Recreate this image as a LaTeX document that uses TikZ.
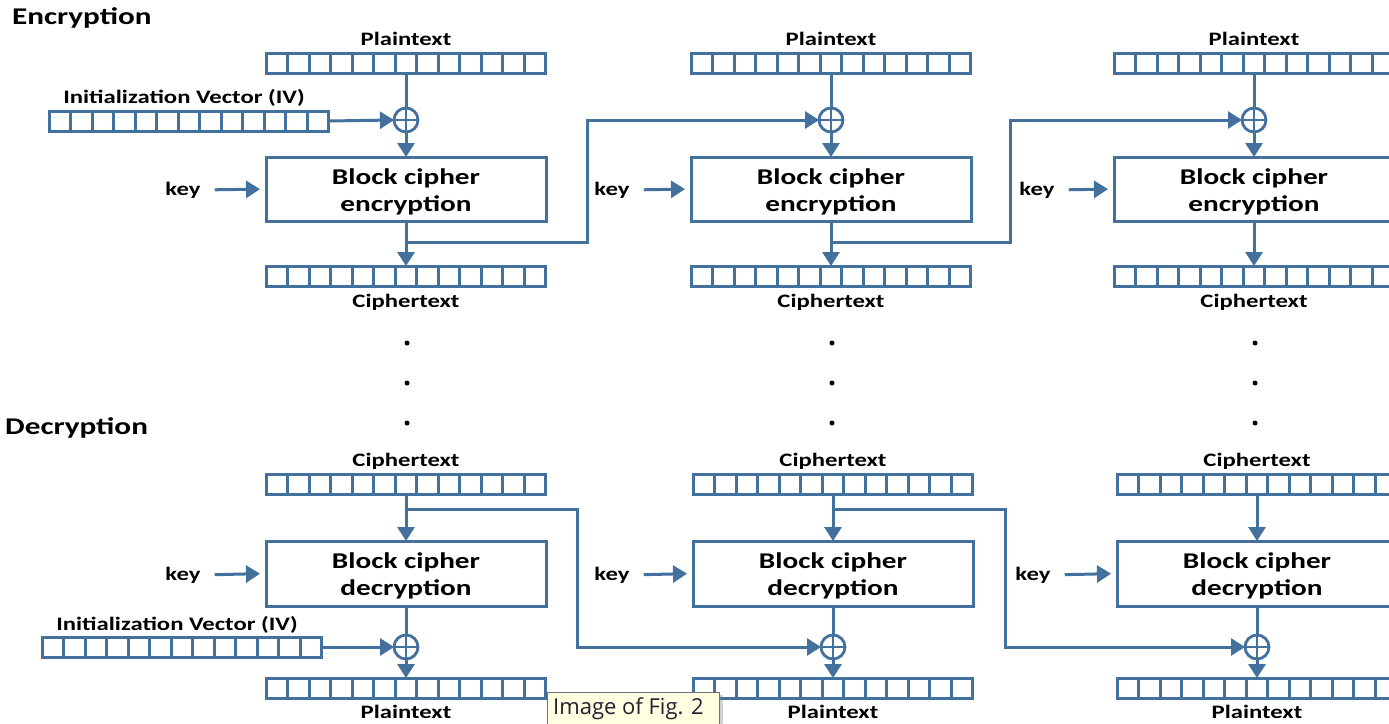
\documentclass[tikz,border=0pt]{standalone}
\usepackage{fontspec}
\setmainfont{Carlito}
\newfontfamily\tipfont{Open Sans}
\usetikzlibrary{arrows.meta,calc,shadows}
\definecolor{cbc}{RGB}{65,113,156}
\definecolor{tipfill}{RGB}{255,255,226}
\definecolor{tiptext}{RGB}{40,30,50}
% horizontally widened lettering
\newcommand\sx[1]{\scalebox{1.3}[1]{#1}}
% a 13-cell register: name, centre x, centre y
\newcommand\register[3]{%
  \node[reg] (#1) at (#2,#3) {};
  \foreach \k in {1,...,12}
    \draw[cbc, line width=3pt] ($(#1.north west)!\k/13!(#1.north east)$) -- ($(#1.south west)!\k/13!(#1.south east)$);
}
% XOR symbol: name, centre x, centre y
\newcommand\xorgate[3]{%
  \node[xorc] (#1) at (#2,#3) {};
  \draw[cbc, line width=2.8pt] (#1.west) -- (#1.east) (#1.north) -- (#1.south);
}
\tikzset{
  reg/.style={draw=cbc, fill=white, line width=3pt, minimum width=279pt, minimum height=20pt, inner sep=0pt, outer sep=0pt},
  xorc/.style={circle, draw=cbc, fill=white, line width=2.8pt, minimum size=24pt, inner sep=0pt, outer sep=0pt},
  cipherbox/.style={draw=cbc, fill=white, line width=3pt, minimum width=280pt, minimum height=64pt, inner sep=0pt, outer sep=0pt},
  boxtext/.style={inner sep=0pt, align=center, font=\bfseries\fontsize{22.5}{27}\selectfont},
  lbl/.style={inner sep=0pt, font=\bfseries\fontsize{19}{22}\selectfont},
  ttl/.style={inner sep=0pt, anchor=west, font=\bfseries\fontsize{24}{28}\selectfont},
  wire/.style={draw=cbc, line width=3pt},
  flow/.style={wire, -{Triangle[length=14pt,width=17pt]}},
  dotmark/.style={circle, fill=black, inner sep=0pt, minimum size=5pt},
}
\begin{document}
\begin{tikzpicture}[x=1pt, y=-1pt]
\useasboundingbox (0,0) rectangle (1389,723);
\clip (0,0) rectangle (1389,723);
\fill[white] (0,0) rectangle (1389,723);

% ---------------- Encryption ----------------
\node[ttl] (enctitle) at (12,18) {\sx{Encryption}};

\node[lbl] (eivlbl) at (184,98) {\sx{Initialization Vector (IV)}};
\register{eiv}{189}{121}

\foreach \c/\X/\kx in {1/406/183, 2/831/612, 3/1254/1037} {
  \node[lbl] (eptl\c) at (\X,39) {\sx{Plaintext}};
  \register{ep\c}{\X}{63}
  \xorgate{ex\c}{\X}{120}
  \node[cipherbox] (eb\c) at (\X,189) {};
  \node[boxtext] (ebt\c) at (\X,192) {\sx{Block cipher}\\\sx{encryption}};
  \register{ec\c}{\X}{276}
  \node[lbl] (ectl\c) at (\X,302) {\sx{Ciphertext}};
  \node[lbl] (ek\c) at (\kx,190) {\sx{key}};
  \coordinate (ej\c) at (\X,242);
  \draw[wire] (ep\c.south) -- (ex\c.north);
  \draw[flow] (ex\c.south) -- (eb\c.north);
  \draw[flow] (eb\c.south) -- (ec\c.north);
  \draw[flow, shorten <=14pt, shorten >=6pt] (ek\c.east) -- (eb\c.west);
  % continuation dots
  \node[dotmark] (dta\c) at (\X+1,343) {};
  \node[dotmark] (dtb\c) at (\X+1,383) {};
  \node[dotmark] (dtc\c) at (\X+1,423) {};
}
\draw[flow] (eiv.east) -- (ex1.west);
\draw[flow] (ej1) -- ++(181,0) |- (ex2.west);
\draw[flow] (ej2) -- ++(179,0) |- (ex3.west);

% ---------------- Decryption ----------------
\node[ttl] (dectitle) at (5,428) {\sx{Decryption}};

\node[lbl] (divlbl) at (177,625) {\sx{Initialization Vector (IV)}};
\register{div}{182}{647}

\foreach \c/\X/\kx in {1/406/183, 2/833/612, 3/1257/1033} {
  \node[lbl] (dctl\c) at (\X,461) {\sx{Ciphertext}};
  \register{dc\c}{\X}{484}
  \node[cipherbox, minimum height=65pt] (db\c) at (\X,573.5) {};
  \node[boxtext] (dbt\c) at (\X,576) {\sx{Block cipher}\\\sx{decryption}};
  \xorgate{dx\c}{\X}{647}
  \register{dp\c}{\X}{688}
  \node[lbl] (dptl\c) at (\X,712) {\sx{Plaintext}};
  \node[lbl] (dk\c) at (\kx,575) {\sx{key}};
  \coordinate (dj\c) at (\X,509);
  \draw[flow] (dc\c.south) -- (db\c.north);
  \draw[wire] (db\c.south) -- (dx\c.north);
  \draw[flow] (dx\c.south) -- (dp\c.north);
  \draw[flow, shorten <=14pt, shorten >=6pt] (dk\c.east) -- (db\c.west);
}
\draw[flow] (div.east) -- (dx1.west);
\draw[flow] (dj1) -- ++(171,0) |- (dx2.west);
\draw[flow] (dj2) -- ++(172,0) |- (dx3.west);

% ---------------- caption tooltip ----------------
\node[draw=black!55, fill=tipfill, line width=1pt, anchor=north west,
      minimum width=172pt, minimum height=36pt, inner sep=0pt,
      drop shadow={shadow xshift=3pt, shadow yshift=-2pt, opacity=0.35}] (tip) at (547,692) {};
\node[anchor=west, inner sep=0pt, text=tiptext, font=\tipfont\fontsize{22}{26}\selectfont] (tiptxt) at (553,709) {Image of Fig. 2};
\end{tikzpicture}
\end{document}
